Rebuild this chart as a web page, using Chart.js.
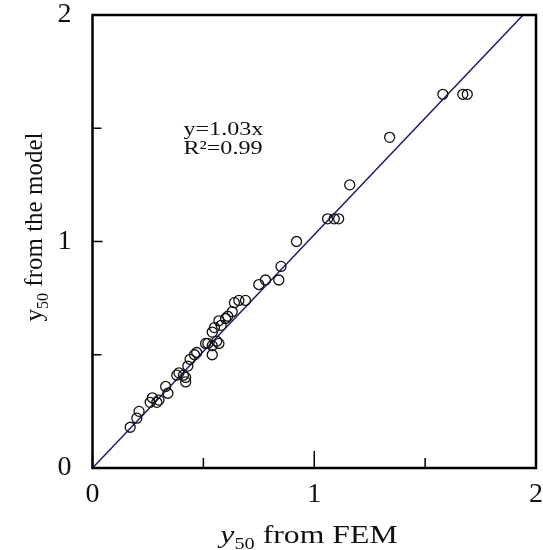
<!DOCTYPE html>
<html>
<head>
<meta charset="utf-8">
<script src="https://cdn.jsdelivr.net/npm/chart.js@4/dist/chart.umd.min.js"></script>
<style>
  html, body { margin: 0; padding: 0; background: #fff; }
  #wrap { width: 543px; height: 550px; }
</style>
</head>
<body>
<div id="wrap"><canvas id="chart"></canvas></div>
<script>
// y50 from FEM (x) vs y50 from the model (y)
const femValues = [0.17, 0.20, 0.21, 0.26, 0.27, 0.29, 0.30, 0.33, 0.34, 0.38,
                   0.39, 0.41, 0.42, 0.42, 0.43, 0.44, 0.46, 0.47, 0.51, 0.52,
                   0.54, 0.54, 0.54, 0.55, 0.56, 0.57, 0.57, 0.58, 0.60, 0.61,
                   0.63, 0.64, 0.66, 0.69, 0.75, 0.78, 0.84, 0.85, 0.92, 1.06,
                   1.09, 1.11, 1.16, 1.34, 1.58, 1.67, 1.69];
const modelValues = [0.18, 0.22, 0.25, 0.29, 0.31, 0.29, 0.30, 0.36, 0.33, 0.41,
                     0.42, 0.41, 0.38, 0.40, 0.45, 0.48, 0.50, 0.51, 0.55, 0.55,
                     0.50, 0.54, 0.60, 0.62, 0.56, 0.55, 0.65, 0.63, 0.66, 0.67,
                     0.69, 0.73, 0.74, 0.74, 0.81, 0.83, 0.83, 0.89, 1.00, 1.10,
                     1.10, 1.10, 1.25, 1.46, 1.65, 1.65, 1.65];
const fitSlope = 1.03;
const fitLabels = ['y=1.03x', 'R\u00B2=0.99'];
const majorTicks = [0, 1, 2];
const minorTicks = [0.5, 1.5];

const serif = '"Liberation Serif", "Times New Roman", serif';
const stretch = 1.27; // the source picture is wider than tall

const points = femValues.map((x, i) => ({ x: x, y: modelValues[i] }));
const fitLine = [{ x: 0, y: 0 }, { x: 2 / fitSlope, y: 2 }];

// write "y50 + rest" with a subscript, starting at 0,0 of the current transform
function subTitle(ctx, rest, italic, sx) {
    const main = '25px ' + serif;
    const sub = '16px ' + serif;
    ctx.font = (italic ? 'italic ' : '') + main;
    const w1 = ctx.measureText('y').width;
    ctx.font = sub;
    const w2 = ctx.measureText('50').width;
    ctx.font = main;
    const w3 = ctx.measureText(rest).width;
    const x0 = -(w1 + w2 + w3) / 2;
    ctx.scale(sx, 1);
    ctx.font = (italic ? 'italic ' : '') + main;
    ctx.fillText('y', x0, 0);
    ctx.font = sub;
    ctx.fillText('50', x0 + w1, 6);
    ctx.font = main;
    ctx.fillText(rest, x0 + w1 + w2, 0);
}

// inward ticks, frame, annotation and axis titles
const decorations = {
    id: 'decorations',
    afterDatasetsDraw(chart) {
        const ctx = chart.ctx;
        const xs = chart.scales.x, ys = chart.scales.y;
        const a = chart.chartArea;
        ctx.save();
        ctx.strokeStyle = '#000';
        ctx.lineWidth = 1.5;
        ctx.beginPath();
        majorTicks.concat(minorTicks).forEach(v => {
            const major = majorTicks.includes(v);
            const px = xs.getPixelForValue(v);
            ctx.moveTo(px, a.bottom); ctx.lineTo(px, a.bottom - (major ? 17 : 10));
            const py = ys.getPixelForValue(v);
            ctx.moveTo(a.left, py); ctx.lineTo(a.left + (major ? 10 : 9), py);
        });
        ctx.stroke();

        ctx.lineWidth = 2.5;
        ctx.strokeRect(a.left, a.top, a.right - a.left, a.bottom - a.top);

        // fit annotation
        ctx.fillStyle = '#111';
        ctx.textBaseline = 'middle';
        ctx.textAlign = 'left';
        const tx = xs.getPixelForValue(0.41);
        ctx.save();
        ctx.translate(tx, ys.getPixelForValue(1.49));
        ctx.scale(stretch, 1);
        ctx.font = '19px ' + serif;
        ctx.fillText(fitLabels[0], 0, 0);
        ctx.fillText(fitLabels[1], 0, 19);
        ctx.restore();

        ctx.textBaseline = 'alphabetic';
        ctx.save();
        ctx.translate(309, 543);
        subTitle(ctx, ' from FEM', true, stretch);
        ctx.restore();

        ctx.save();
        ctx.translate(42, 227);
        ctx.rotate(-Math.PI / 2);
        subTitle(ctx, ' from the model', false, 1);
        ctx.restore();
        ctx.restore();
    }
};

new Chart(document.getElementById('chart'), {
    type: 'scatter',
    data: {
        datasets: [
            {
                label: 'fit',
                type: 'line',
                data: fitLine,
                borderColor: '#1c1c6b',
                borderWidth: 1.5,
                pointRadius: 0,
                fill: false,
                order: 2
            },
            {
                label: 'points',
                data: points,
                pointStyle: 'circle',
                pointRadius: 5,
                pointBorderWidth: 1.3,
                borderColor: '#111',
                backgroundColor: 'rgba(255,255,255,0)',
                order: 1
            }
        ]
    },
    options: {
        responsive: true,
        maintainAspectRatio: false,
        animation: false,
        layout: { padding: { top: 15, right: 7, left: 0, bottom: 0 } },
        plugins: {
            legend: { display: false },
            tooltip: { enabled: false }
        },
        scales: {
            x: {
                type: 'linear',
                min: 0, max: 2,
                afterBuildTicks: s => { s.ticks = majorTicks.map(v => ({ value: v })); },
                afterFit: s => { s.height = 82; s.paddingLeft = 0; s.paddingRight = 0; },
                grid: { display: false, drawTicks: false },
                border: { display: false },
                ticks: {
                    color: '#111',
                    padding: 10,
                    font: { family: serif, size: 28 },
                    maxRotation: 0,
                    callback: v => String(v)
                }
            },
            y: {
                type: 'linear',
                min: 0, max: 2,
                afterBuildTicks: s => { s.ticks = majorTicks.map(v => ({ value: v })); },
                afterFit: s => { s.width = 92.5; s.paddingTop = 0; s.paddingBottom = 0; },
                grid: { display: false, drawTicks: false },
                border: { display: false },
                ticks: {
                    color: '#111',
                    padding: 21,
                    font: { family: serif, size: 28 },
                    callback: v => String(v)
                }
            }
        }
    },
    plugins: [decorations]
});
</script>
</body>
</html>
